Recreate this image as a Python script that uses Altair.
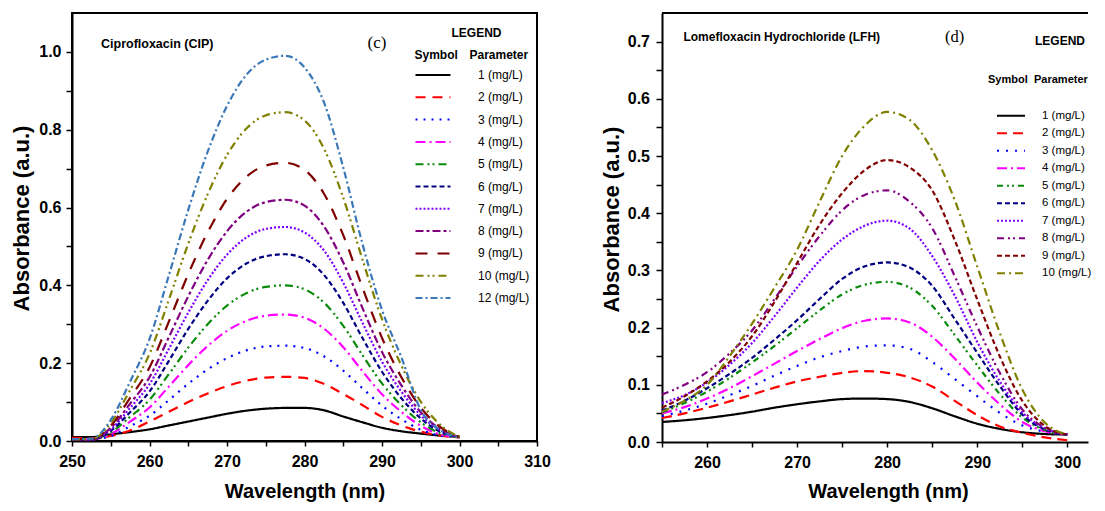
import altair as alt
import pandas as pd

SANS = "Liberation Sans, Arial, sans-serif"
SERIF = "Liberation Serif, Times New Roman, serif"

# ---------------- Panel (c): Ciprofloxacin ----------------
cip_wl = [250, 252.5, 255, 257.5, 260, 262.5, 265, 267.5, 270, 272.5, 275,
          277.5, 280, 282.5, 285, 287.5, 290, 292.5, 295, 297.5, 300]
cip_labels = ["1 (mg/L)", "2 (mg/L)", "3 (mg/L)", "4 (mg/L)", "5 (mg/L)", "6 (mg/L)",
              "7 (mg/L)", "8 (mg/L)", "9 (mg/L)", "10 (mg/L)", "12 (mg/L)"]
cip_1 = [0.010, 0.010, 0.017, 0.023, 0.030, 0.040, 0.050, 0.060, 0.070, 0.078, 0.083,
         0.085, 0.085, 0.079, 0.063, 0.048, 0.034, 0.025, 0.019, 0.014, 0.011]
cip_2 = [0.008, 0.007, 0.013, 0.027, 0.050, 0.075, 0.100, 0.122, 0.141, 0.155, 0.163,
         0.165, 0.162, 0.147, 0.121, 0.092, 0.062, 0.040, 0.024, 0.014, 0.009]
cip_3 = [0.005, 0.004, 0.013, 0.038, 0.065, 0.105, 0.147, 0.184, 0.213, 0.233, 0.243,
         0.245, 0.239, 0.218, 0.181, 0.135, 0.091, 0.056, 0.029, 0.014, 0.010]
cip_4 = [0.005, 0.004, 0.018, 0.050, 0.086, 0.140, 0.195, 0.244, 0.283, 0.309, 0.322,
         0.325, 0.317, 0.289, 0.241, 0.179, 0.120, 0.075, 0.039, 0.017, 0.010]
cip_5 = [0.005, 0.004, 0.022, 0.062, 0.106, 0.172, 0.240, 0.300, 0.348, 0.380, 0.396,
         0.400, 0.390, 0.356, 0.296, 0.220, 0.148, 0.092, 0.048, 0.020, 0.010]
cip_6 = [0.005, 0.004, 0.026, 0.074, 0.127, 0.206, 0.288, 0.360, 0.418, 0.456, 0.475,
         0.480, 0.468, 0.427, 0.355, 0.264, 0.178, 0.110, 0.058, 0.024, 0.010]
cip_7 = [0.005, 0.004, 0.030, 0.085, 0.146, 0.237, 0.330, 0.413, 0.479, 0.523, 0.545,
         0.550, 0.536, 0.490, 0.407, 0.303, 0.204, 0.127, 0.066, 0.028, 0.010]
cip_8 = [0.005, 0.004, 0.034, 0.096, 0.164, 0.267, 0.372, 0.465, 0.539, 0.589, 0.614,
         0.620, 0.605, 0.552, 0.459, 0.341, 0.229, 0.143, 0.074, 0.031, 0.010]
cip_9 = [0.005, 0.005, 0.039, 0.111, 0.189, 0.307, 0.429, 0.536, 0.622, 0.679, 0.708,
         0.715, 0.697, 0.636, 0.529, 0.393, 0.265, 0.164, 0.086, 0.036, 0.010]
cip_10 = [0.005, 0.005, 0.046, 0.131, 0.224, 0.363, 0.507, 0.634, 0.735, 0.803, 0.837,
          0.845, 0.824, 0.752, 0.625, 0.465, 0.313, 0.194, 0.101, 0.042, 0.010]
cip_12 = [0.005, 0.006, 0.054, 0.153, 0.262, 0.426, 0.594, 0.743, 0.861, 0.941, 0.980,
          0.990, 0.960, 0.871, 0.703, 0.505, 0.337, 0.215, 0.080, 0.028, 0.010]
cip_series = [cip_1, cip_2, cip_3, cip_4, cip_5, cip_6, cip_7, cip_8, cip_9, cip_10, cip_12]
cip_colors = ["#000000", "#ff0000", "#0000ff", "#ff00ff", "#0a8a0a", "#000080",
              "#8000ff", "#800080", "#800000", "#808000", "#3a78b8"]
cip_dashes = [[1, 0], [10, 7], [2, 6], [10, 4, 2, 4], [8, 4, 2, 3, 2, 4], [5, 3],
              [2, 2], [8, 3, 3, 3], [12, 10], [8, 4, 2, 3, 2, 4], [7, 3, 2, 3]]
cip_xticks = [250, 255, 260, 265, 270, 275, 280, 285, 290, 295, 300, 305, 310]
cip_yticks = [0.0, 0.1, 0.2, 0.3, 0.4, 0.5, 0.6, 0.7, 0.8, 0.9, 1.0]

# ---------------- Panel (d): Lomefloxacin Hydrochloride ----------------
lfh_wl = [255, 257.5, 260, 262.5, 265, 267.5, 270, 272.5, 275, 277.5, 280,
          282.5, 285, 287.5, 290, 292.5, 295, 297.5, 300]
lfh_labels = ["1 (mg/L)", "2 (mg/L)", "3 (mg/L)", "4 (mg/L)", "5 (mg/L)", "6 (mg/L)",
              "7 (mg/L)", "8 (mg/L)", "9 (mg/L)", "10 (mg/L)"]
lfh_1 = [0.035, 0.038, 0.042, 0.047, 0.053, 0.060, 0.066, 0.071, 0.075, 0.076, 0.075,
         0.070, 0.059, 0.045, 0.032, 0.023, 0.017, 0.014, 0.013]
lfh_2 = [0.042, 0.050, 0.060, 0.071, 0.083, 0.095, 0.106, 0.114, 0.121, 0.124, 0.121,
         0.113, 0.097, 0.072, 0.047, 0.027, 0.016, 0.008, 0.003]
lfh_3 = [0.045, 0.055, 0.067, 0.082, 0.098, 0.116, 0.133, 0.148, 0.159, 0.167, 0.169,
         0.163, 0.140, 0.110, 0.080, 0.051, 0.029, 0.018, 0.013]
lfh_4 = [0.050, 0.061, 0.076, 0.094, 0.115, 0.137, 0.159, 0.180, 0.199, 0.212, 0.216,
         0.209, 0.184, 0.146, 0.104, 0.066, 0.035, 0.019, 0.013]
lfh_5 = [0.052, 0.068, 0.088, 0.112, 0.139, 0.168, 0.199, 0.230, 0.258, 0.275, 0.280,
         0.270, 0.238, 0.187, 0.134, 0.084, 0.043, 0.021, 0.013]
lfh_6 = [0.055, 0.072, 0.094, 0.119, 0.147, 0.179, 0.213, 0.250, 0.285, 0.307, 0.314,
         0.305, 0.273, 0.215, 0.156, 0.098, 0.048, 0.022, 0.013]
lfh_7 = [0.068, 0.082, 0.104, 0.135, 0.173, 0.220, 0.270, 0.317, 0.354, 0.378, 0.387,
         0.373, 0.325, 0.256, 0.175, 0.106, 0.052, 0.024, 0.013]
lfh_8 = [0.083, 0.100, 0.122, 0.155, 0.195, 0.250, 0.307, 0.360, 0.405, 0.432, 0.440,
         0.420, 0.374, 0.290, 0.202, 0.121, 0.057, 0.025, 0.013]
lfh_9 = [0.060, 0.080, 0.106, 0.140, 0.185, 0.245, 0.313, 0.380, 0.435, 0.475, 0.493,
         0.480, 0.440, 0.353, 0.249, 0.150, 0.072, 0.028, 0.013]
lfh_10 = [0.053, 0.072, 0.100, 0.150, 0.207, 0.270, 0.336, 0.420, 0.500, 0.553, 0.577,
          0.563, 0.510, 0.423, 0.307, 0.191, 0.092, 0.034, 0.013]
lfh_series = [lfh_1, lfh_2, lfh_3, lfh_4, lfh_5, lfh_6, lfh_7, lfh_8, lfh_9, lfh_10]
lfh_colors = ["#000000", "#ff0000", "#0000ff", "#ff00ff", "#0a8a0a", "#000080",
              "#8000ff", "#800080", "#800000", "#808000"]
lfh_dashes = [[1, 0], [10, 6], [2, 7], [10, 4, 2, 4], [6, 4, 2, 3, 2, 4], [5, 3],
              [2, 2], [7, 4, 2, 3, 2, 4], [5, 3], [8, 4, 2, 4]]
lfh_xticks = [255, 260, 265, 270, 275, 280, 285, 290, 295, 300]
lfh_yticks = [0.0, 0.05, 0.1, 0.15, 0.2, 0.25, 0.3, 0.35, 0.4, 0.45, 0.5, 0.55,
              0.6, 0.65, 0.7]


def long_df(wl, labels, series):
    rows = []
    for lab, vals in zip(labels, series):
        for w, v in zip(wl, vals):
            rows.append({"wl": w, "A": v, "s": lab})
    return pd.DataFrame(rows)


one = pd.DataFrame({"k": [0]})


def txt(text, x, y, size, font=SANS, weight="bold"):
    return alt.Chart(one).mark_text(
        text=text, align="left", baseline="middle", font=font, fontSize=size,
        fontWeight=weight, color="black"
    ).encode(x=alt.value(x), y=alt.value(y))


def x_axis(values, title_pad, title_x=None):
    kw = dict(
        values=values, labelExpr="datum.value % 10 == 0 ? format(datum.value, 'd') : ''",
        tickSize=5, tickWidth=1.5, tickColor="black", domainColor="black", domainWidth=2,
        labelFont=SANS, labelFontSize=16, labelFontWeight="bold", labelColor="black",
        labelPadding=7, labelFlush=False, labelOverlap=False, grid=False,
        title="Wavelength (nm)", titleFont=SANS, titleFontSize=20, titleFontWeight="bold",
        titleColor="black", titlePadding=title_pad,
    )
    if title_x is not None:
        kw["titleX"] = title_x
    return alt.Axis(**kw)


def y_axis(values, expr, label_pad, title_pad, title_y):
    return alt.Axis(
        values=values, labelExpr=expr,
        tickSize=6, tickWidth=1.5, tickColor="black", domainColor="black", domainWidth=2,
        labelFont=SANS, labelFontSize=16, labelFontWeight="bold", labelColor="black",
        labelPadding=label_pad, labelFlush=False, labelOverlap=False, grid=False,
        title="Absorbance (a.u.)", titleFont=SANS, titleFontSize=22, titleFontWeight="bold",
        titleColor="black", titlePadding=title_pad, titleY=title_y,
    )


# ---------- left panel ----------
WL, HL = 465, 428
leg_c = alt.Legend(
    title=None, orient="none", legendX=354, legendY=55, padding=0,
    symbolType="M-3,0H3", symbolSize=136, symbolStrokeWidth=2,
    labelFont=SANS, labelFontSize=12, labelColor="black", labelOffset=38,
    rowPadding=9.3,
)
df_c = long_df(cip_wl, cip_labels, cip_series)
lines_c = alt.Chart(df_c).mark_line(strokeWidth=2.2, interpolate="monotone").encode(
    x=alt.X("wl:Q", scale=alt.Scale(domain=[250, 310], nice=False, zero=False),
            axis=x_axis(cip_xticks, 12)),
    y=alt.Y("A:Q", scale=alt.Scale(domain=[0, 1.1], nice=False),
            axis=y_axis(cip_yticks,
                        "(round(datum.value*10) % 2 == 0) ? format(datum.value, '.1f') : ''",
                        5, 5.7, 205)),
    color=alt.Color("s:N", scale=alt.Scale(domain=cip_labels, range=cip_colors), legend=leg_c),
    strokeDash=alt.StrokeDash("s:N", scale=alt.Scale(domain=cip_labels, range=cip_dashes),
                              legend=leg_c),
)
left = alt.layer(
    lines_c,
    txt("Ciprofloxacin (CIP)", 29, 30.5, 12.5),
    txt("(c)", 295.5, 30, 17, font=SERIF, weight="normal"),
    txt("LEGEND", 379.5, 20, 12),
    txt("Symbol", 342.5, 41.5, 12),
    txt("Parameter", 397.5, 41.5, 12),
).properties(width=WL, height=HL, view=alt.ViewBackground(stroke="black", strokeWidth=2))

# ---------- right panel ----------
WR, HR = 426, 429
leg_d = alt.Legend(
    title=None, orient="none", legendX=343, legendY=96.7, padding=0,
    symbolType="M-3,0H3", symbolSize=87, symbolStrokeWidth=2,
    labelFont=SANS, labelFontSize=11.5, labelColor="black", labelOffset=25,
    rowPadding=5.5,
)
df_d = long_df(lfh_wl, lfh_labels, lfh_series)
lines_d = alt.Chart(df_d).mark_line(strokeWidth=2.2, interpolate="monotone").encode(
    x=alt.X("wl:Q", scale=alt.Scale(domain=[255, 302.3], nice=False, zero=False),
            axis=x_axis(lfh_xticks, 11, title_x=226)),
    y=alt.Y("A:Q", scale=alt.Scale(domain=[0, 0.75], nice=False),
            axis=y_axis(lfh_yticks,
                        "(round(datum.value*100) % 10 == 0) ? format(datum.value, '.1f') : ''",
                        6.5, 3.9, 206)),
    color=alt.Color("s:N", scale=alt.Scale(domain=lfh_labels, range=lfh_colors), legend=leg_d),
    strokeDash=alt.StrokeDash("s:N", scale=alt.Scale(domain=lfh_labels, range=lfh_dashes),
                              legend=leg_d),
)
top_border = alt.Chart(one).mark_rule(color="black", strokeWidth=2).encode(
    x=alt.value(0), x2=alt.value(WR), y=alt.value(0)
)
right = alt.layer(
    lines_d,
    top_border,
    txt("Lomefloxacin Hydrochloride (LFH)", 21.4, 23.7, 12),
    txt("(d)", 283, 23.5, 16.5, font=SERIF, weight="normal"),
    txt("LEGEND", 373, 28.4, 12),
    txt("Symbol", 326, 67, 11),
    txt("Parameter", 372, 67, 11),
).properties(width=WR, height=HR, view=alt.ViewBackground(stroke="transparent"))

chart = alt.hconcat(left, right, spacing=47).resolve_scale(
    color="independent", strokeDash="independent"
).resolve_legend(color="independent", strokeDash="independent").properties(
    padding={"left": 1, "top": 3, "right": 0, "bottom": 0},
    background="white",
)

chart.save("out.html", embed_options={"renderer": "svg", "actions": False})
